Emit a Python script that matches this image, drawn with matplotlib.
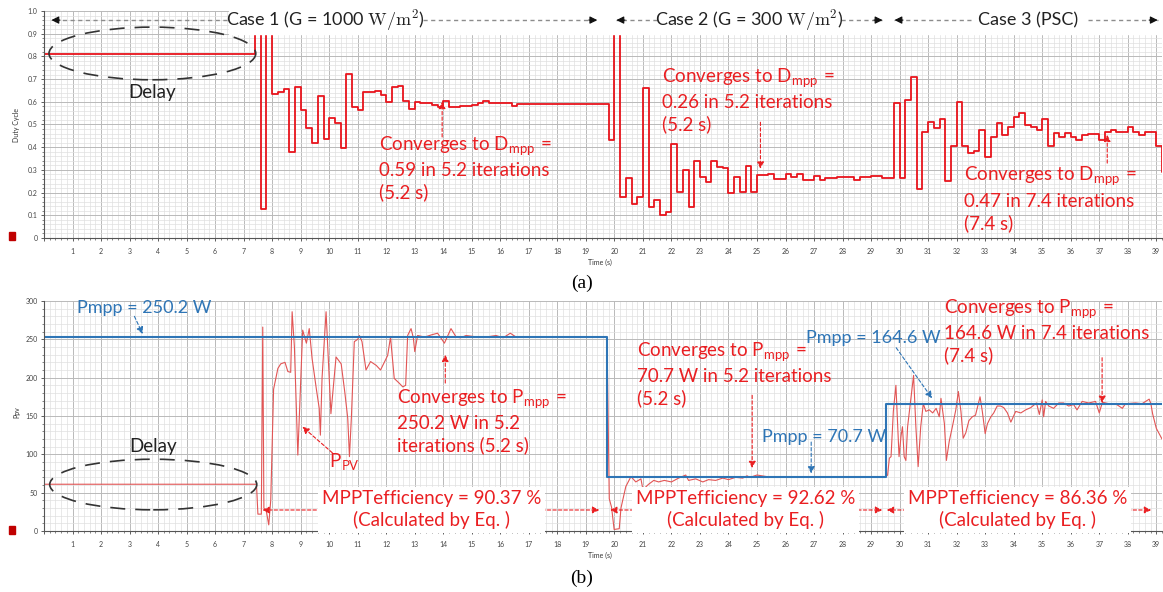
import matplotlib
matplotlib.use("Agg")
import matplotlib.pyplot as plt
import numpy as np
from matplotlib.patches import Ellipse, Rectangle
from matplotlib.ticker import MultipleLocator, FuncFormatter

plt.rcParams["font.family"] = ["Lato", "DejaVu Sans"]
plt.rcParams["mathtext.fontset"] = "cm"

# ---------------- data ----------------
# duty cycle: constant during the delay, then 0.2 s steps
delay_end = 7.4
delay_duty = 0.81
step_dt = 0.2
duty_case1 = [1.2, 0.128, 1.2, 0.634, 0.644, 0.656, 0.377, 0.664, 0.564, 0.483,
              0.417, 0.626, 0.436, 0.527, 0.505, 0.395, 0.722, 0.576, 0.564, 0.644,
              0.644, 0.647, 0.63, 0.60, 0.664, 0.67, 0.605, 0.567, 0.60, 0.594,
              0.596, 0.586, 0.579, 0.605, 0.578, 0.578, 0.582, 0.582, 0.586, 0.596,
              0.603, 0.594, 0.594, 0.594, 0.594, 0.582,
              0.589, 0.589, 0.589, 0.589, 0.589, 0.589, 0.589, 0.589,
              0.589, 0.589, 0.589, 0.589, 0.589, 0.589, 0.589, 0.589]
duty_case2 = [0.432, 1.2, 0.182, 0.263, 0.15, 0.182, 0.659, 0.136, 0.167, 0.103,
              0.115, 0.414, 0.204, 0.299, 0.138, 0.34, 0.27, 0.248, 0.34, 0.314,
              0.307, 0.197, 0.27, 0.204, 0.318, 0.204, 0.277, 0.277, 0.284, 0.26,
              0.26, 0.284, 0.27, 0.284, 0.255, 0.255, 0.273, 0.255, 0.263, 0.263,
              0.27, 0.267, 0.267, 0.255, 0.27, 0.27, 0.273, 0.273, 0.265, 0.265]
duty_case3 = [0.596, 0.263, 0.608, 0.711, 0.218, 0.467, 0.512, 0.483, 0.523, 0.252,
              0.405, 0.597, 0.406, 0.376, 0.384, 0.475, 0.358, 0.446, 0.507, 0.452,
              0.489, 0.531, 0.552, 0.497, 0.489, 0.475, 0.523, 0.406, 0.463, 0.446,
              0.463, 0.443, 0.432, 0.452, 0.46, 0.46, 0.43, 0.467, 0.475, 0.467,
              0.467, 0.489, 0.467, 0.452, 0.467, 0.467, 0.405, 0.29]

# PV power samples (time s, power W)
pv_t_case1 = [0, 7.45, 7.5, 7.62, 7.67, 7.71, 7.8, 7.88, 7.95, 8.05,
              8.2, 8.3, 8.45, 8.55, 8.65, 8.7, 8.78, 8.9, 9.07, 9.2,
              9.3, 9.4, 9.55, 9.65, 9.69, 9.75, 9.89, 10.06, 10.24, 10.42,
              10.55, 10.65, 10.71, 10.78, 10.88, 11.0, 11.06, 11.15, 11.29, 11.45,
              11.65, 11.8, 12.05, 12.15, 12.28, 12.45, 12.58, 12.68, 12.75, 12.87,
              12.95, 13.0, 13.1, 13.35, 13.6, 13.8, 14.04, 14.27, 14.45, 14.6,
              14.8, 15.2, 15.5, 15.85, 16.1, 16.35, 16.55, 19.72]
pv_p_case1 = [61, 61, 22, 22, 266, 30, 25, 8, 40, 185,
              212, 218, 220, 208, 207, 286, 240, 99, 262, 245,
              264, 225, 185, 160, 125, 200, 286, 153, 227, 218,
              180, 147, 97, 150, 247, 250, 255, 247, 210, 221,
              216, 210, 229, 253, 199, 193, 188, 190, 255, 264,
              252, 234, 255, 253, 256, 258, 245, 264, 253, 252,
              255, 253, 253, 255, 252, 258, 253, 253]
pv_t_case2 = [19.74, 19.82, 19.9, 19.99, 20.17, 20.23, 20.4, 20.58, 20.75, 20.93,
              21.0, 21.2, 21.38, 21.55, 21.75, 22.0, 22.25, 22.5, 22.6, 22.85,
              23.1, 23.3, 23.55, 23.8, 24.0, 24.25, 24.5, 24.65, 24.75, 25.0,
              25.5, 26.0, 27.0, 28.0, 29.52]
pv_p_case2 = [253, 42, 31, 2, 3, 30, 58, 71, 64, 68,
              54, 61, 66, 64, 66, 64, 69, 73, 66, 68,
              64, 67, 66, 69, 67, 70, 69, 72, 70, 73,
              70, 71, 70.5, 71, 71]
pv_t_case3 = [29.52, 29.58, 29.64, 29.7, 29.78, 29.87, 29.98, 30.05, 30.1, 30.16,
              30.22, 30.28, 30.49, 30.57, 30.65, 30.74, 30.83, 30.92, 31.04, 31.16,
              31.28, 31.39, 31.45, 31.57, 31.64, 31.74, 31.85, 31.97, 32.06, 32.15,
              32.23, 32.32, 32.43, 32.55, 32.66, 32.82, 32.9, 33.0, 33.08, 33.2,
              33.3, 33.42, 33.54, 33.65, 33.78, 33.9, 34.07, 34.25, 34.42, 34.6,
              34.8, 34.9, 35.0, 35.05, 35.12, 35.23, 35.4, 35.58, 35.75, 35.93,
              36.1, 36.22, 36.4, 36.63, 36.87, 37.0, 37.11, 37.34, 37.57, 37.81,
              37.92, 38.27, 38.5, 38.75, 38.81, 38.87, 39.0, 39.2]
pv_p_case3 = [71, 73, 95, 97, 156, 190, 97, 124, 136, 97,
              92, 136, 203, 136, 84, 136, 166, 156, 158, 154,
              160, 149, 173, 140, 92, 117, 136, 158, 182, 156,
              121, 128, 144, 149, 151, 175, 156, 127, 140, 149,
              154, 163, 163, 161, 154, 142, 156, 154, 158, 161,
              167, 152, 171, 149, 169, 163, 160, 167, 167, 163,
              165, 158, 169, 167, 169, 154, 168, 166, 166, 160,
              166, 167, 166, 172, 166, 153, 134, 120]

# MPP reference (blue step)
pmpp_switch_t = [0, 19.74, 29.52, 39.2]
pmpp_levels = [253, 70.7, 165.6]

# ---------------- styling ----------------
t_max = 39.2
red = "#e8141c"
red_txt = "#ea1f22"
red_pv = "#e25555"
blue = "#2e75b6"

fig = plt.figure(figsize=(11.63, 5.92), dpi=100)
W, H = 1163, 592
ax1 = fig.add_axes([44 / W, 1 - 238 / H, (1162 - 44) / W, (238 - 11) / H])
ax2 = fig.add_axes([44 / W, 1 - 531 / H, (1162 - 44) / W, (531 - 301) / H])


def style_axes(ax, ymaj, ymin_, fmt):
    ax.set_xlim(0, t_max)
    ax.xaxis.set_major_locator(MultipleLocator(1))
    ax.xaxis.set_minor_locator(MultipleLocator(0.2))
    ax.yaxis.set_major_locator(MultipleLocator(ymaj))
    ax.yaxis.set_minor_locator(MultipleLocator(ymin_))
    ax.xaxis.set_major_formatter(FuncFormatter(lambda v, p: "" if v == 0 else f"{v:.0f}"))
    ax.yaxis.set_major_formatter(FuncFormatter(fmt))
    ax.grid(which="major", color="#b9b9b9", lw=0.7)
    ax.grid(which="minor", color="#e0e0e0", lw=0.5)
    ax.set_axisbelow(True)
    for s in ["top", "right"]:
        ax.spines[s].set_visible(False)
    for s in ["left", "bottom"]:
        ax.spines[s].set_color("#555555")
        ax.spines[s].set_linewidth(0.8)
    ax.tick_params(which="major", length=2.5, width=0.6, labelsize=5,
                   colors="#444444", pad=2)
    ax.tick_params(axis="x", which="major", pad=5)
    ax.tick_params(which="minor", length=1.5, width=0.5, colors="#555555")


def dashed_arrow(ax, xy, xytext, color):
    ax.annotate("", xy=xy, xytext=xytext, zorder=6,
                arrowprops=dict(arrowstyle="-|>", color=color, lw=0.8,
                                linestyle=(0, (3, 2)), mutation_scale=10,
                                shrinkA=0, shrinkB=0))


# ---------------- (a) duty cycle ----------------
duty_vals = duty_case1 + duty_case2 + duty_case3
duty_t = np.concatenate([[0], delay_end + step_dt * np.arange(len(duty_vals)), [t_max + 0.2]])
duty_y = np.concatenate([[delay_duty], duty_vals, [duty_vals[-1]]])
ax1.step(duty_t, duty_y, where="post", color=red, lw=1.3, zorder=2)
ax1.set_ylim(0, 1.0)
style_axes(ax1, 0.1, 0.02, lambda v, p: "0" if abs(v) < 1e-9 else f"{v:.1f}")
ax1.axhspan(0.9, 1.0, xmin=6.5 / t_max, xmax=1, color="white", zorder=3)

# case banner: grey dashed spans with black heads
banner = dict(fontsize=13, color="#222222", ha="center", va="center", zorder=6)
ax1.text(9.85, 0.96, r"Case 1 (G = 1000 $\mathrm{W/m^2}$)", **banner)
ax1.text(24.73, 0.96, r"Case 2 (G = 300 $\mathrm{W/m^2}$)", **banner)
ax1.text(34.5, 0.96, "Case 3 (PSC)", **banner)
banner_arrows = [(6.4, 0.26), (13.3, 19.4), (21.5, 20.07), (27.95, 29.4),
                 (32.5, 29.82), (36.6, 39.05)]
for x0, x1 in banner_arrows:
    ax1.plot([x0, x1], [0.96, 0.96], color="#8c8c8c", lw=1.0,
             ls=(0, (3, 2.5)), zorder=5, clip_on=False)
    sgn = 1 if x1 > x0 else -1
    ax1.annotate("", xy=(x1, 0.96), xytext=(x1 - sgn * 0.3, 0.96), zorder=6,
                 arrowprops=dict(arrowstyle="-|>", color="#111111", lw=0.8,
                                 mutation_scale=11, shrinkA=0, shrinkB=0))

ax1.add_patch(Ellipse((3.8, 0.813), 7.25, 0.232, fill=False, ec="#333333",
                      lw=1.2, ls=(0, (9, 6)), zorder=4))
ax1.text(3.8, 0.64, "Delay", fontsize=13.5, color="#222222", ha="center",
         va="center", zorder=6)

note = dict(fontsize=13.5, color=red_txt, ha="left", va="top", linespacing=1.3, zorder=6)
ax1.text(11.75, 0.455, "Converges to D$_\\mathregular{mpp}$ =\n0.59 in 5.2 iterations\n(5.2 s)", **note)
ax1.text(21.68, 0.755, "Converges to D$_\\mathregular{mpp}$ =\n0.26 in 5.2 iterations\n(5.2 s)", **note)
ax1.text(32.26, 0.32, "Converges to D$_\\mathregular{mpp}$ =\n0.47 in 7.4 iterations\n(7.4 s)", **note)
dashed_arrow(ax1, (13.96, 0.60), (13.96, 0.445), red_txt)
dashed_arrow(ax1, (25.12, 0.305), (25.12, 0.51), red_txt)
dashed_arrow(ax1, (37.28, 0.455), (37.28, 0.33), red_txt)

fig.text(17 / W, 1 - 125 / H, "Duty Cycle", rotation=90, fontsize=5,
         color="#333333", ha="center", va="center")
fig.text(600 / W, 1 - 262 / H, "Time (s)", fontsize=5, color="#333333",
         ha="center", va="center")

# ---------------- (b) PV power ----------------
pv_t = pv_t_case1 + pv_t_case2 + pv_t_case3
pv_p = pv_p_case1 + pv_p_case2 + pv_p_case3
ax2.plot(pv_t, pv_p, color=red_pv, lw=0.8, zorder=2)
ax2.step(pmpp_switch_t, pmpp_levels + [pmpp_levels[-1]], where="post",
         color=blue, lw=1.5, zorder=2.2)
ax2.set_ylim(0, 300)
style_axes(ax2, 50, 10, lambda v, p: f"{v:.0f}")

ax2.add_patch(Ellipse((3.83, 60.6), 7.26, 66, fill=False, ec="#333333",
                      lw=1.2, ls=(0, (9, 6)), zorder=4))
ax2.text(3.84, 110, "Delay", fontsize=13.5, color="#222222", ha="center",
         va="center", zorder=6)

blue_note = dict(fontsize=13, color=blue, ha="left", va="center", zorder=6)
ax2.text(1.17, 291, "Pmpp = 250.2 W", **blue_note)
ax2.text(25.18, 123, "Pmpp = 70.7 W", **blue_note)
ax2.text(26.72, 252, "Pmpp = 164.6 W", **blue_note)
dashed_arrow(ax2, (3.46, 257), (3.17, 280), blue)
dashed_arrow(ax2, (26.9, 75), (26.9, 116), blue)
dashed_arrow(ax2, (31.14, 173), (29.88, 239), blue)

ax2.text(12.39, 187, "Converges to P$_\\mathregular{mpp}$ =\n250.2 W in 5.2\niterations (5.2 s)", **note)
ax2.text(20.8, 248, "Converges to P$_\\mathregular{mpp}$ =\n70.7 W in 5.2 iterations\n(5.2 s)", **note)
ax2.text(31.56, 304, "Converges to P$_\\mathregular{mpp}$ =\n164.6 W in 7.4 iterations\n(7.4 s)", **note)
dashed_arrow(ax2, (14.07, 230), (14.07, 193), red_txt)
dashed_arrow(ax2, (24.83, 82), (24.83, 177), red_txt)
dashed_arrow(ax2, (37.1, 167), (37.1, 226), red_txt)

ax2.text(10.0, 90, "P$_\\mathregular{PV}$", fontsize=13.5, color=red_txt,
         ha="left", va="center", zorder=6)
dashed_arrow(ax2, (9.06, 136), (10.11, 102), red_txt)

eff = dict(fontsize=13.5, color=red_txt, ha="center", va="center",
           linespacing=1.25, zorder=7,
           bbox=dict(facecolor="white", edgecolor="none", pad=2.5))
ax2.text(13.58, 28, "MPPTefficiency = 90.37 %\n(Calculated by Eq. )", **eff)
ax2.text(24.59, 28, "MPPTefficiency = 92.62 %\n(Calculated by Eq. )", **eff)
ax2.text(34.13, 28, "MPPTefficiency = 86.36 %\n(Calculated by Eq. )", **eff)
eff_arrows = [(9.94, 7.66), (17.26, 19.47), (20.87, 19.85), (28.34, 29.39),
              (30.44, 29.55), (37.8, 38.82)]
for x0, x1 in eff_arrows:
    dashed_arrow(ax2, (x1, 27.4), (x0, 27.4), red_txt)

fig.text(17 / W, 1 - 412 / H, "Ppv", rotation=90, fontsize=5,
         color="#333333", ha="center", va="center")
fig.text(600 / W, 1 - 555 / H, "Time (s)", fontsize=5, color="#333333",
         ha="center", va="center")

# panel captions and small legend markers
fig.text(582 / W, 1 - 283 / H, "(a)", fontsize=14, family="Liberation Serif",
         ha="center", va="center")
fig.text(582 / W, 1 - 578 / H, "(b)", fontsize=14, family="Liberation Serif",
         ha="center", va="center")
for yy in [236, 530]:
    fig.patches.append(Rectangle((9 / W, 1 - (yy + 4) / H), 6 / W, 8 / H,
                                 transform=fig.transFigure, color="#c00000"))

fig.savefig("out.png", dpi=100)
